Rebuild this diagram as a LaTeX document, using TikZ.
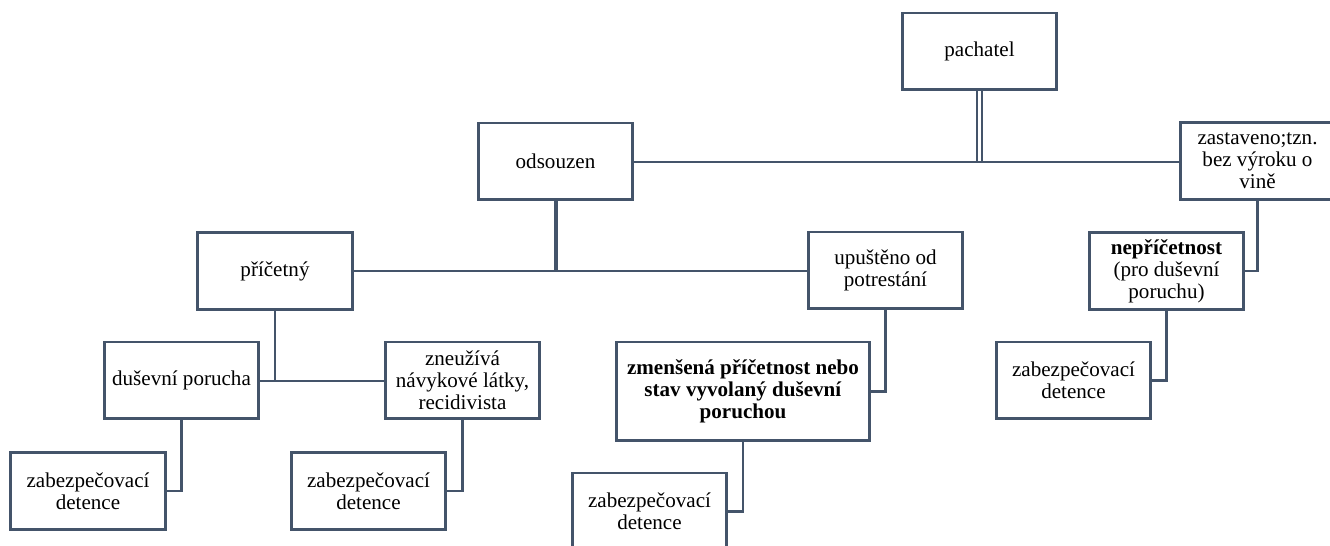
\documentclass[tikz,border=0pt]{standalone}
\usepackage{fontspec}
\setmainfont{LiberationSerif}[Extension=.ttf, UprightFont=*-Regular, BoldFont=*-Bold, ItalicFont=*-Italic, BoldItalicFont=*-BoldItalic]
\definecolor{slate}{HTML}{44546A}

\begin{document}
\begin{tikzpicture}[x=0.02cm, y=-0.02cm,
  box/.style={draw=slate, line width=1.7pt, fill=white, minimum width=3.1cm, minimum height=1.54cm,
    align=center, inner sep=1pt, font=\fontsize{12}{12.6}\selectfont},
  link/.style={draw=slate, line width=1.5pt}]
\useasboundingbox (0,0) rectangle (1330,546);
\draw [link, line width=1.1pt, double, double distance=1.5pt] (979.5,90) -- (979.5,162);
\draw [link] (633,162) -- (1180,162);
\draw [link, line width=2.8pt] (556,200) -- (556,271);
\draw [link] (353,271) -- (808,271);
\draw [link] (275,309) -- (275,381) (259,381) -- (385,381);
\node [box] (pachatel) at (979.5, 51.5) {pachatel};
\node [box] (odsouzen) at (555.5, 161.5) {odsouzen};
\node [box] (zastaveno) at (1257.5, 161) {zastaveno;tzn.\\ bez výroku o\\ vině};
\node [box] (pricetny) at (275, 271) {příčetný};
\node [box] (upusteno) at (885.5, 270.5) {upuštěno od\\ potrestání};
\node [box] (nepricetnost) at (1166.5, 271) {\textbf{nepříčetnost}\\ (pro duševní\\ poruchu)};
\node [box] (dusevni) at (181.5, 380.5) {duševní porucha};
\node [box] (zneuziva) at (462.5, 380.5) {zneužívá\\ návykové látky,\\ recidivista};
\node [box, minimum width=5.08cm, minimum height=1.98cm] (zmensena) at (743, 391.5)
  {\textbf{zmenšená příčetnost nebo}\\ \textbf{stav vyvolaný duševní}\\ \textbf{poruchou}};
\node [box] (detence4) at (1073.5, 380.5) {zabezpečovací\\ detence};
\node [box] (detence1) at (88, 491) {zabezpečovací\\ detence};
\node [box] (detence2) at (368.5, 491) {zabezpečovací\\ detence};
\node [box] (detence3) at (649.5, 511.5) {zabezpečovací\\ detence};
\draw [link] (dusevni.south) |- (detence1.east);
\draw [link] (zneuziva.south) |- (detence2.east);
\draw [link] (upusteno.south) |- (zmensena.east);
\draw [link] (zmensena.south) |- (detence3.east);
\draw [link] (zastaveno.south) |- (nepricetnost.east);
\draw [link] (nepricetnost.south) |- (detence4.east);
\end{tikzpicture}
\end{document}
